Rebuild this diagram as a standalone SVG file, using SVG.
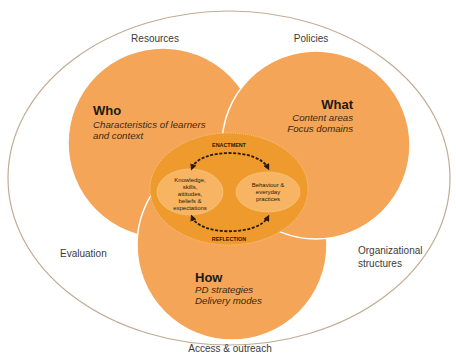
<svg xmlns="http://www.w3.org/2000/svg" width="456" height="354" viewBox="0 0 456 354">
<style>
.lbl{font-family:"Liberation Sans",Arial,sans-serif;font-size:10px;fill:#3a3a3a}
.hd{font-family:"Liberation Sans",Arial,sans-serif;font-size:13px;font-weight:bold;fill:#1a1a1a}
.it{font-family:"Liberation Sans",Arial,sans-serif;font-size:9.7px;font-style:italic;fill:#3a2814}
.sm{font-family:"Liberation Sans",Arial,sans-serif;font-size:6px;fill:#2a1a08;text-anchor:middle}
.cap{font-family:"Liberation Sans",Arial,sans-serif;font-size:5.4px;font-weight:bold;fill:#2a1a08;text-anchor:middle}
.big{fill:#F5A557;stroke:#ffffff;stroke-width:1.5}
.arc{fill:none;stroke:#2a1a08;stroke-width:1.8;stroke-dasharray:3 1.6}
</style>
<defs>
<marker id="ah" viewBox="0 0 10 10" refX="6" refY="5" markerWidth="3.6" markerHeight="3.6" orient="auto-start-reverse" markerUnits="strokeWidth">
<path d="M0,0 L10,5 L0,10 z" fill="#2a1a08"/>
</marker>
</defs>
<rect width="456" height="354" fill="#ffffff"/>
<g id="context">
<ellipse cx="229" cy="178" rx="221" ry="167" fill="none" stroke="#C2AB94" stroke-width="1.2"/>
</g>
<g id="who">
<circle class="big" cx="163" cy="143" r="95"/>
</g>
<g id="how">
<circle class="big" cx="232" cy="245" r="95"/>
</g>
<g id="what">
<circle class="big" cx="316" cy="145" r="94"/>
</g>
<g id="core">
<ellipse cx="229" cy="189" rx="79" ry="56" fill="#EF9A2C" stroke="#F7C98A" stroke-width="1" stroke-dasharray="1 1"/>
</g>
<g id="knowledge">
<ellipse cx="190" cy="192" rx="33" ry="23" fill="#F7B463" stroke="#F9CB8C" stroke-width="0.6"/>
<text class="sm" x="190" y="182">Knowledge,</text>
<text class="sm" x="190" y="189">skills,</text>
<text class="sm" x="190" y="196">attitudes,</text>
<text class="sm" x="190" y="203">beliefs &amp;</text>
<text class="sm" x="190" y="210">expectations</text>
</g>
<g id="behaviour">
<ellipse cx="268" cy="192" rx="32" ry="20" fill="#F7B463" stroke="#F9CB8C" stroke-width="0.6"/>
<text class="sm" x="268" y="187">Behaviour &amp;</text>
<text class="sm" x="268" y="194">everyday</text>
<text class="sm" x="268" y="201">practices</text>
</g>
<g id="connectors">
<path class="arc" d="M192 168 C200 148,258 148,268 168" marker-start="url(#ah)" marker-end="url(#ah)"/>
<path class="arc" d="M192 217 C200 236,258 236,268 217" marker-start="url(#ah)" marker-end="url(#ah)"/>
</g>
<g id="captions">
<text class="cap" x="229" y="147">ENACTMENT</text>
<text class="cap" x="229" y="241">REFLECTION</text>
</g>
<g id="labels">
<text class="lbl" x="155" y="42" text-anchor="middle">Resources</text>
<text class="lbl" x="311" y="42" text-anchor="middle">Policies</text>
<text class="lbl" x="60" y="257">Evaluation</text>
<text class="lbl" x="358" y="254">Organizational</text>
<text class="lbl" x="358" y="267">structures</text>
<text class="lbl" x="230" y="352" text-anchor="middle">Access &amp; outreach</text>
</g>
<g id="who-text">
<text class="hd" x="93" y="115">Who</text>
<text class="it" x="93" y="128">Characteristics of learners</text>
<text class="it" x="93" y="139">and context</text>
</g>
<g id="what-text">
<text class="hd" x="353" y="109" text-anchor="end">What</text>
<text class="it" x="353" y="121" text-anchor="end">Content areas</text>
<text class="it" x="353" y="132" text-anchor="end">Focus domains</text>
</g>
<g id="how-text">
<text class="hd" x="195" y="282">How</text>
<text class="it" x="195" y="293">PD strategies</text>
<text class="it" x="195" y="304">Delivery modes</text>
</g>
</svg>
